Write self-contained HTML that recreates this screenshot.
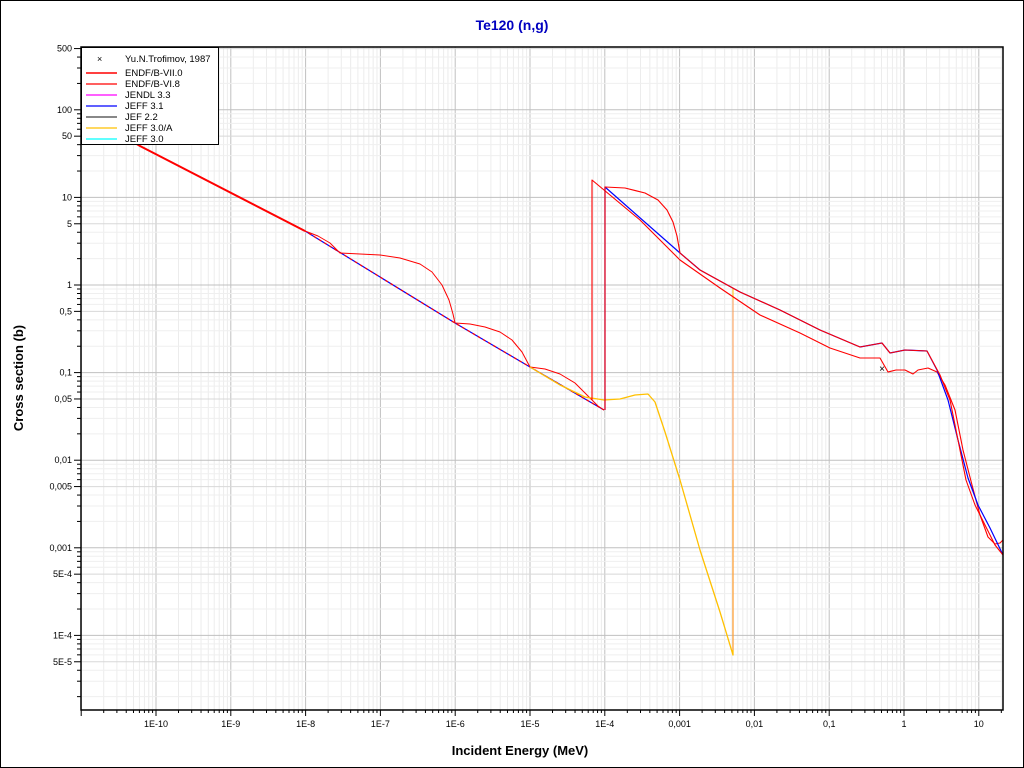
<!DOCTYPE html>
<html><head><meta charset="utf-8"><style>
body{margin:0;background:#fff;}
svg{display:block;font-family:"Liberation Sans",sans-serif;}
</style></head><body>
<svg id="s" width="1024" height="768" xmlns="http://www.w3.org/2000/svg">
<rect x="0.5" y="0.5" width="1023" height="767" fill="#fff" stroke="#000"/>
<g id="grid"></g>
<g id="curves" fill="none" stroke-linejoin="round">
<polyline points="81,112 140,146 305,231 455,323 530,367 604,410" stroke="#0000ff" stroke-width="1.2"/>
<polyline points="81,112 140,146 305,231 455,323 530,367 604,410" stroke="#ff0000" stroke-width="1.2" stroke-dasharray="3,3"/>
<polyline points="120,134 140,146 305,231" stroke="#ff0000" stroke-width="2"/>
<polyline points="305,231 318,236 330,243 340,253 360,254 380,255 400,258 420,264 432,272 442,285 449,300 453,314 455,323 470,324 485,327 500,332 512,340 522,352 530,367 545,369 560,374 575,383 588,396 598,406 604,410" stroke="#ff0000" stroke-width="1"/>
<polyline points="530,367 560,385 585,397 604,400 620,399 635,395 648,394 655,402 665,432 680,480 700,550 720,612 733,655 733,480" stroke="#ffc000" stroke-width="1.3"/>
<line x1="733" y1="288" x2="733" y2="480" stroke="#ffc000" stroke-width="1"/>
<polyline points="592,400 592,180 640,220 680,260 720,288 760,315 800,333 830,348 860,358 880,358 888,372 896,370 905,370 913,374 918,370 928,368 937,372 945,385 955,410 963,450 972,485 980,515 988,537 995,544 1000,543 1003,540" stroke="#ff0000" stroke-width="1.1"/>
<polyline points="605,410 605,187 680,253 700,270 740,292 780,310 820,330 860,347 882,343 890,353 905,350 927,351 937,370 948,400 958,440 968,478 978,505 990,528 1003,555" stroke="#0000ff" stroke-width="1.2"/>
<polyline points="605,410 605,187 625,188 645,193 658,200 667,210 673,222 677,236 680,253 700,270 740,292 780,310 820,330 860,347 882,343 890,353 905,350 927,351 940,375 950,400 958,440 966,480 975,505 985,525 995,545 1003,555" stroke="#ff0000" stroke-width="1.1"/>
<line x1="733" y1="300" x2="733" y2="650" stroke="#ff8080" stroke-width="0.6"/>
<text x="882" y="372" font-size="10" text-anchor="middle" fill="#000">×</text>
</g>
<rect x="81" y="47" width="922" height="663" fill="none" stroke="#000" stroke-width="1.5"/>
<g id="legend">
<rect x="81.5" y="47.5" width="137" height="97" fill="#fff" stroke="#000"/>
<g font-size="9.5" fill="#000">
<text x="97" y="62" font-size="9">×</text><text x="125" y="62">Yu.N.Trofimov, 1987</text>
<line x1="86" y1="73" x2="117" y2="73" stroke="#ff0000" stroke-width="1.5"/><text x="125" y="76">ENDF/B-VII.0</text>
<line x1="86" y1="84" x2="117" y2="84" stroke="#ff0000" stroke-width="1.2"/><text x="125" y="87">ENDF/B-VI.8</text>
<line x1="86" y1="95" x2="117" y2="95" stroke="#ff00ff" stroke-width="1.2"/><text x="125" y="98">JENDL 3.3</text>
<line x1="86" y1="106" x2="117" y2="106" stroke="#0000ff" stroke-width="1.2"/><text x="125" y="109">JEFF 3.1</text>
<line x1="86" y1="117" x2="117" y2="117" stroke="#404040" stroke-width="1.2"/><text x="125" y="120">JEF 2.2</text>
<line x1="86" y1="128" x2="117" y2="128" stroke="#ffc000" stroke-width="1.2"/><text x="125" y="131">JEFF 3.0/A</text>
<line x1="86" y1="139" x2="117" y2="139" stroke="#00ffff" stroke-width="1.2"/><text x="125" y="142">JEFF 3.0</text>
</g>
</g>
<text x="512" y="30" font-size="14" font-weight="bold" fill="#0000c0" text-anchor="middle">Te120 (n,g)</text>
<text x="520" y="755" font-size="13" font-weight="bold" text-anchor="middle">Incident Energy (MeV)</text>
<text transform="translate(23,378) rotate(-90)" font-size="13" font-weight="bold" text-anchor="middle">Cross section (b)</text>
</svg>
<script>
(function(){
var ns="http://www.w3.org/2000/svg",g=document.getElementById("grid");
function L(x1,y1,x2,y2,c,w){var l=document.createElementNS(ns,"line");l.setAttribute("x1",x1);l.setAttribute("y1",y1);l.setAttribute("x2",x2);l.setAttribute("y2",y2);l.setAttribute("stroke",c);l.setAttribute("stroke-width",w||1);g.appendChild(l);}
function T(x,y,s,a){var t=document.createElementNS(ns,"text");t.setAttribute("x",x);t.setAttribute("y",y);t.setAttribute("font-size","9");t.setAttribute("text-anchor",a);t.textContent=s;g.appendChild(t);}
var X=function(l){return 156+(l+10)*74.8;},Y=function(l){return 285-l*87.6;};
for(var d=-11;d<=1;d++){for(var m=1;m<10;m++){var x=X(d+Math.log10(m));if(x<81||x>1003)continue;
L(x,47,x,710,m==1?"#c0c0c0":"#ececec",1);L(x,710,x,m==1?716:713,"#000",1);}}
var xl=["1E-10","1E-9","1E-8","1E-7","1E-6","1E-5","1E-4","0,001","0,01","0,1","1","10"];
for(var i=0;i<xl.length;i++)T(X(i-10),727,xl[i],"middle");
for(var d=-5;d<=2;d++){for(var m=1;m<10;m++){var y=Y(d+Math.log10(m));if(y<47||y>710)continue;
L(81,y,1003,y,m==1?"#c0c0c0":(m==5?"#d8d8d8":"#efefef"),1);L(m==1||m==5?74:77,y,81,y,"#000",1);}}
var yl=[[500,"500"],[100,"100"],[50,"50"],[10,"10"],[5,"5"],[1,"1"],[0.5,"0,5"],[0.1,"0,1"],[0.05,"0,05"],[0.01,"0,01"],[0.005,"0,005"],[0.001,"0,001"],[5e-4,"5E-4"],[1e-4,"1E-4"],[5e-5,"5E-5"]];
yl.forEach(function(p){T(72,Y(Math.log10(p[0]))+3,p[1],"end");});
})();
</script>
</body></html>
